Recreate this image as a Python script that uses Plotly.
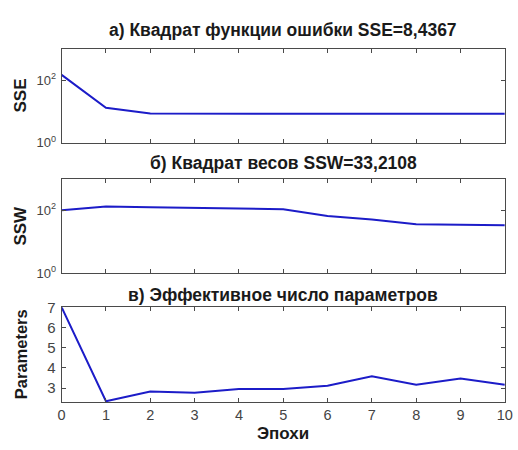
import plotly.graph_objects as go

epochs = [0, 1, 2, 3, 4, 5, 6, 7, 8, 9, 10]
sse = [150, 13.2, 8.6, 8.45, 8.44, 8.44, 8.44, 8.44, 8.44, 8.44, 8.4367]
ssw = [100, 132, 124, 118, 115, 108, 66, 51, 36, 35, 33.2108]
params = [7.0, 2.35, 2.83, 2.77, 2.96, 2.96, 3.12, 3.59, 3.17, 3.47, 3.17]

titles = ["а) Квадрат функции ошибки SSE=8,4367",
          "б) Квадрат весов SSW=33,2108",
          "в) Эффективное число параметров"]
ylabels = ["SSE", "SSW", "Parameters"]
xlabel = "Эпохи"
xtick_vals = list(range(0, 11))
log_tick_vals = [1, 100]
log_tick_text = ["10<sup>0</sup>", "10<sup>2</sup>"]
lin_tick_vals = [3, 4, 5, 6, 7]

W, H = 518, 450
x0, x1 = 59 / W, 512.7 / W
doms = [(1 - 139 / H, 1 - 41.7 / H),
        (1 - 274.7 / H, 1 - 176.3 / H),
        (1 - 408.3 / H, 1 - 310 / H)]

LINE = "#1c1cc8"
FRAME = "#4a4a4a"
TICKC = "#444444"
FONT = "Liberation Sans, Arial, sans-serif"

fig = go.Figure()
series = [sse, ssw, params]
for i, ys in enumerate(series):
    ax = "" if i == 0 else str(i + 1)
    fig.add_trace(go.Scatter(x=epochs, y=ys, mode="lines",
                             line=dict(color=LINE, width=2),
                             xaxis="x" + ax, yaxis="y" + ax,
                             showlegend=False, hoverinfo="skip"))

common_x = dict(range=[0, 10], tickvals=xtick_vals, ticks="inside", ticklen=4,
                tickcolor=FRAME, showline=True, linecolor=FRAME, linewidth=1,
                mirror="ticks", showgrid=False, zeroline=False,
                tickfont=dict(family=FONT, size=14.5, color=TICKC),
                ticklabeloverflow="allow",
                domain=[x0, x1])
layout = dict(width=W, height=H, margin=dict(l=0, r=0, t=0, b=0),
              paper_bgcolor="white", plot_bgcolor="white", showlegend=False)
for i in range(3):
    ax = "" if i == 0 else str(i + 1)
    xa = dict(common_x)
    xa["anchor"] = "y" + ax
    xa["showticklabels"] = (i == 2)
    layout["xaxis" + ax] = xa
    ya = dict(ticks="inside", ticklen=4, tickcolor=FRAME, showline=True,
              linecolor=FRAME, linewidth=1, mirror="ticks", showgrid=False,
              zeroline=False, anchor="x" + ax, domain=list(doms[i]),
              tickfont=dict(family=FONT, size=13, color=TICKC), ticklabelstandoff=2,
              ticklabeloverflow="allow")
    if i < 2:
        ya.update(type="log", range=[0, 3], tickvals=log_tick_vals, ticktext=log_tick_text)
    else:
        ya.update(range=[2.32, 7], tickvals=lin_tick_vals,
                  tickfont=dict(family=FONT, size=15, color=TICKC))
    layout["yaxis" + ax] = ya

fig.update_layout(**layout)

title_y = [22, 160, 297]
label_y = [(41.7 + 139) / 2, (176.3 + 274.7) / 2, (310 + 408.3) / 2]
label_size = [17, 17, 16.5]
for i in range(3):
    fig.add_annotation(text="<b>" + titles[i] + "</b>", xref="paper", yref="paper",
                       x=(x0 + x1) / 2, y=1 - title_y[i] / H, showarrow=False,
                       xanchor="center", yanchor="middle",
                       font=dict(family=FONT, size=17.5, color="#1a1a1a"))
    fig.add_annotation(text="<b>" + ylabels[i] + "</b>", xref="paper", yref="paper",
                       x=17 / W, y=1 - label_y[i] / H, showarrow=False, textangle=-90,
                       xanchor="center", yanchor="middle",
                       font=dict(family=FONT, size=label_size[i], color="#1a1a1a"))
fig.add_annotation(text="<b>" + xlabel + "</b>", xref="paper", yref="paper",
                   x=(x0 + x1) / 2, y=1 - 441 / H, showarrow=False,
                   xanchor="center", yanchor="middle",
                   font=dict(family=FONT, size=17, color="#1a1a1a"))

fig.write_html("out.html", config={"displayModeBar": False},
               post_script="document.body.style.margin='0';document.body.style.padding='0';")
